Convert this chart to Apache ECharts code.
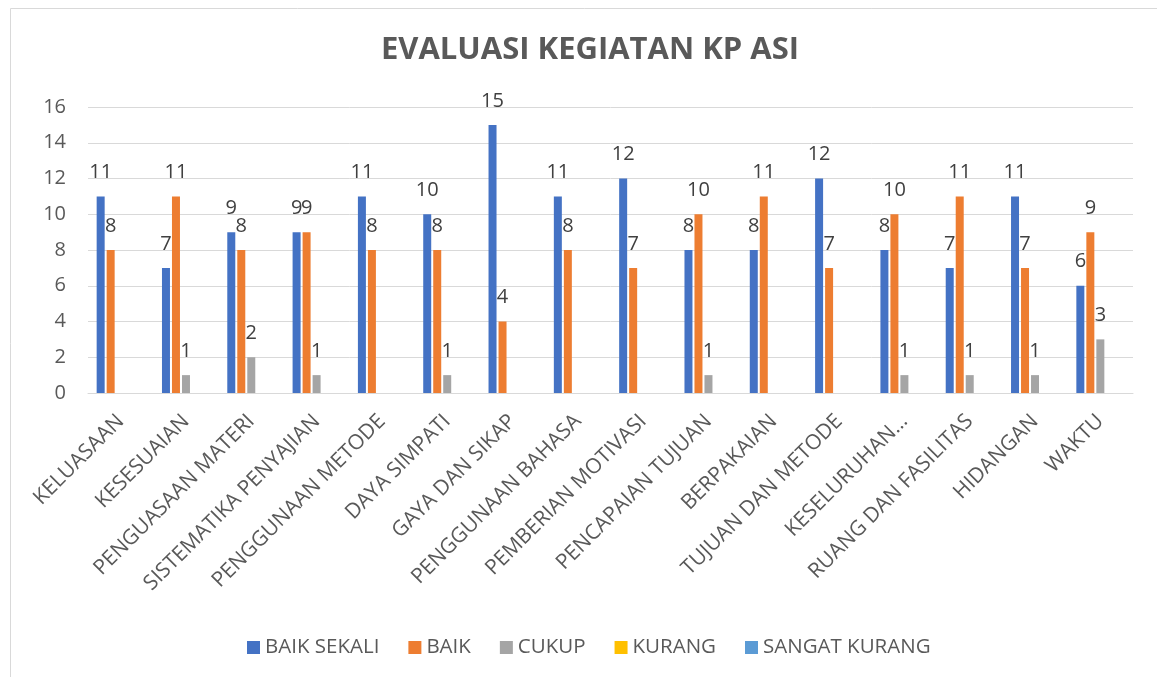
<!DOCTYPE html>
<html>
<head>
<meta charset="utf-8">
<title>EVALUASI KEGIATAN KP ASI</title>
<script src="https://cdn.jsdelivr.net/npm/echarts@6/dist/echarts.min.js"></script>
<style>
  html, body { margin: 0; padding: 0; background: #fff; }
  #chart { width: 1157px; height: 677px; }
</style>
</head>
<body>
<div id="chart"></div>
<script>
const categories = [
  'KELUASAAN', 'KESESUAIAN', 'PENGUASAAN MATERI', 'SISTEMATIKA PENYAJIAN',
  'PENGGUNAAN METODE', 'DAYA SIMPATI', 'GAYA DAN SIKAP', 'PENGGUNAAN BAHASA',
  'PEMBERIAN MOTIVASI', 'PENCAPAIAN TUJUAN', 'BERPAKAIAN', 'TUJUAN DAN METODE',
  'KESELURUHAN…', 'RUANG DAN FASILITAS', 'HIDANGAN', 'WAKTU'
];
const baikSekali = [11, 7, 9, 9, 11, 10, 15, 11, 12, 8, 8, 12, 8, 7, 11, 6];
const baik = [8, 11, 8, 9, 8, 8, 4, 8, 7, 10, 11, 7, 10, 11, 7, 9];
const cukup = [null, 1, 2, 1, null, 1, null, null, null, 1, null, null, 1, 1, 1, 3];
const kurang = new Array(categories.length).fill(null);
const sangatKurang = new Array(categories.length).fill(null);

const seriesNames = ['BAIK SEKALI', 'BAIK', 'CUKUP', 'KURANG', 'SANGAT KURANG'];
const seriesData = [baikSekali, baik, cukup, kurang, sangatKurang];
const colors = ['#4472C4', '#ED7D31', '#A5A5A5', '#FFC000', '#5B9BD5'];

const font = '"Open Sans", "Noto Sans", sans-serif';

const chart = echarts.init(document.getElementById('chart'));
chart.setOption({
  animation: false,
  color: colors,
  textStyle: { fontFamily: font },
  title: {
    text: 'EVALUASI KEGIATAN KP ASI',
    left: 585,
    top: 30,
    textAlign: 'center',
    textStyle: { fontSize: 31, fontWeight: 'bold', color: '#595959', fontFamily: font }
  },
  graphic: [{
    type: 'rect',
    shape: { x: 10.5, y: 8.5, width: 1170, height: 700 },
    style: { fill: 'none', stroke: '#d9d9d9', lineWidth: 1 },
    silent: true
  }],
  legend: {
    left: 242,
    top: 632,
    itemWidth: 13,
    itemHeight: 13,
    itemGap: 29,
    icon: 'rect',
    textStyle: { fontSize: 20.5, color: '#595959', fontFamily: font },
    data: seriesNames
  },
  grid: { left: 88, right: 24, top: 107, bottom: 284 },
  xAxis: {
    type: 'category',
    data: categories,
    axisTick: { show: false },
    axisLine: { lineStyle: { color: '#d9d9d9', width: 1 } },
    axisLabel: {
      rotate: 45,
      interval: 0,
      margin: 25,
      fontSize: 21,
      color: '#595959',
      fontFamily: font
    }
  },
  yAxis: {
    type: 'value',
    min: 0,
    max: 16,
    interval: 2,
    axisLine: { show: false },
    axisTick: { show: false },
    splitLine: { lineStyle: { color: '#d9d9d9', width: 1 } },
    axisLabel: { fontSize: 20, color: '#595959', margin: 22, fontFamily: font }
  },
  series: seriesNames.map((name, i) => ({
    name: name,
    type: 'bar',
    data: seriesData[i],
    barWidth: 8,
    barGap: '25%',
    label: {
      show: true,
      position: 'top',
      distance: 14,
      fontSize: 20,
      color: '#404040',
      fontFamily: font
    }
  }))
});
</script>
</body>
</html>
